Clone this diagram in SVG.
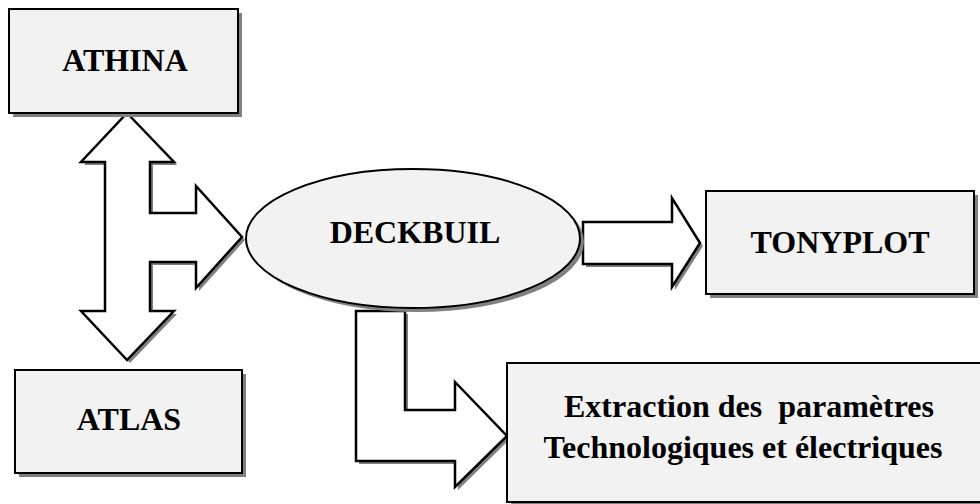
<svg xmlns="http://www.w3.org/2000/svg" width="980" height="504" viewBox="0 0 980 504">
<defs>
<style>
.box{fill:#f2f2f2;stroke:#000;stroke-width:2}
.sh{fill:#808080;stroke:none}
.arr{fill:#fff;stroke:#000;stroke-width:2.5;stroke-linejoin:miter}
.t{font-family:"Liberation Serif","Times New Roman",serif;font-weight:bold;font-size:32px;fill:#000;text-anchor:middle}
</style>
</defs>
<rect width="980" height="504" fill="#fff"/>
<g id="connectors">
<polygon class="sh" transform="translate(3,3)" points="127,113 174,162 150,162 150,213 196,213 196,186 242,237 196,288 196,262 150,262 150,311 174,311 127,360 81,311 105,311 105,162 81,162"/>
<polygon class="arr" points="127,113 174,162 150,162 150,213 196,213 196,186 242,237 196,288 196,262 150,262 150,311 174,311 127,360 81,311 105,311 105,162 81,162"/>
<polygon class="sh" transform="translate(3,3)" points="583,222 672,222 672,198 700,243 672,287 672,264 583,264"/>
<polygon class="arr" points="583,222 672,222 672,198 700,243 672,287 672,264 583,264"/>
<polygon class="sh" transform="translate(3,3)" points="356,311 405,311 405,410 455,410 455,382 507,436 455,487 455,461 356,461"/>
<polygon class="arr" points="356,311 405,311 405,410 455,410 455,382 507,436 455,487 455,461 356,461"/>
</g>
<g id="athina">
<rect class="sh" x="13" y="13" width="229" height="104"/>
<rect class="box" x="9" y="9" width="229" height="104"/>
<text class="t" x="125" y="71">ATHINA</text>
</g>
<g id="atlas">
<rect class="sh" x="19" y="374" width="227" height="103"/>
<rect class="box" x="15" y="370" width="227" height="103"/>
<text class="t" x="129" y="430">ATLAS</text>
</g>
<g id="deckbuil">
<ellipse class="sh" cx="417" cy="242" rx="167" ry="70"/>
<ellipse class="box" cx="413" cy="238.5" rx="167" ry="69.5"/>
<text class="t" x="415" y="243">DECKBUIL</text>
</g>
<g id="tonyplot">
<rect class="sh" x="710" y="195" width="268" height="103"/>
<rect class="box" x="706" y="191" width="268" height="103"/>
<text class="t" x="840" y="253">TONYPLOT</text>
</g>
<g id="extraction">
<rect class="sh" x="511" y="367" width="480" height="140"/>
<rect class="box" x="507" y="363" width="480" height="139"/>
<text class="t" x="749" y="417" xml:space="preserve">Extraction des  paramètres</text>
<text class="t" x="743" y="458">Technologiques et électriques</text>
</g>
</svg>
